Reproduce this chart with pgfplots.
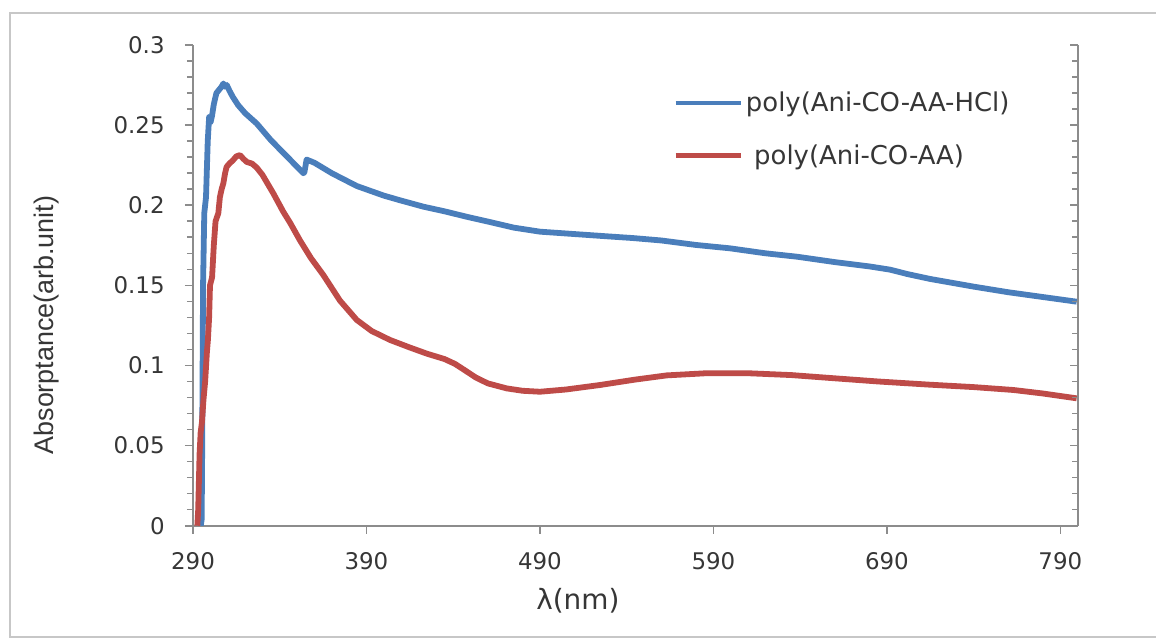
\documentclass[border=0pt]{standalone}
\usepackage{fontspec}
\setmainfont{DejaVu Sans}
\newfontfamily\lib{Liberation Sans}
\usepackage{pgfplots}
\pgfplotsset{compat=1.18}
\definecolor{cblue}{HTML}{4A7EBB}
\definecolor{cred}{HTML}{BE4B48}
\definecolor{tickgray}{HTML}{363636}
\definecolor{axgray}{HTML}{8C8C8C}
\begin{document}
\begin{tikzpicture}
\path[use as bounding box] (-96.5bp,-56.65bp) rectangle (481.5bp,262.85bp);
\fill[white] (-96.5bp,-56.65bp) rectangle (481.5bp,262.85bp);
\draw[black!22, line width=1bp] (485bp,256.35bp) -- (-91.5bp,256.35bp) -- (-91.5bp,-55.65bp) -- (485bp,-55.65bp);
\begin{axis}[
  at={(0,0)}, anchor=south west,
  scale only axis, width=442.35bp, height=240.35bp,
  xmin=290, xmax=800, ymin=0, ymax=0.3,
  axis x line*=bottom, axis y line*=left,
  axis line style={axgray, line width=1bp},
  every tick/.style={axgray, line width=0.8bp},
  tick align=outside,
  major tick length=4bp, minor tick length=3bp,
  xtick={290,390,490,590,690,790},
  ytick={0,0.05,0.1,0.15,0.2,0.25,0.3},
  yticklabels={0,0.05,0.1,0.15,0.2,0.25,0.3},
  minor y tick num=4,
  /pgf/number format/assume math mode=true,
  xticklabel style={font=\fontsize{11.5}{13}\selectfont, text=tickgray, inner sep=0pt, anchor=north, yshift=-9bp},
  yticklabel style={font=\fontsize{11.5}{13}\selectfont, text=tickgray, inner sep=0pt, anchor=east, xshift=-10bp},
  xlabel={λ(nm)},
  xlabel style={font=\fontsize{14}{16}\selectfont, text=tickgray, at={(axis description cs:0.435,-0.1566)}, anchor=center, inner sep=0pt},
  ylabel={\lib Absorptance(arb.unit)},
  ylabel style={font=\fontsize{13.5}{15}\selectfont, text=tickgray, at={(axis description cs:-0.165,0.4175)}, anchor=center, rotate=0, inner sep=0pt},
  legend style={at={(axis cs:566.7,0.273)}, anchor=north west, draw=none, fill=none, inner sep=0pt,
    font=\fontsize{13}{15}\selectfont, text=tickgray, row sep=12bp,
    nodes={inner sep=1.5bp}},
  legend cell align=left,
  legend image code/.code={\draw[#1, line width=2.3bp] (0bp,0bp) -- (32.5bp,0bp);},
]
\addplot[cblue, line width=2.9bp, line join=round] coordinates {
(294.5,0.000) (295.0,0.004) (295.3,0.05) (295.8,0.15) (296.5,0.195) (297.5,0.205)
(298.5,0.24) (299.3,0.255) (300.2,0.252) (301.0,0.256) (302.0,0.263) (303.5,0.270)
(305,0.272) (306.5,0.274) (307.5,0.276) (308.5,0.274) (309.5,0.275) (311,0.2715)
(313,0.2675) (316,0.2625) (320,0.2575) (326.7,0.2510) (335,0.2405) (345.9,0.2285)
(353.6,0.2200) (354.2,0.2205) (355.5,0.2285) (360,0.2265) (370,0.2200) (384.4,0.2120)
(400,0.2060) (409.3,0.2031) (422.8,0.1991) (435,0.1962) (447.8,0.1928) (461.2,0.1895)
(475,0.1860) (490,0.1835) (510,0.1820) (530,0.1805) (543.8,0.1795) (560,0.1780)
(580,0.1752) (599.6,0.1731) (620,0.1700) (638,0.1679) (660,0.1645) (680,0.1618)
(691.8,0.1598) (702,0.1570) (714.9,0.1540) (740,0.1492) (760,0.1457) (780,0.1427) (799.4,0.1398)
};
\addlegendentry{poly(Ani-CO-AA-HCl)}
\addplot[cred, line width=2.9bp, line join=round] coordinates {
(292.5,0.000) (293.0,0.01) (293.8,0.045) (294.4,0.058) (295.2,0.065) (296,0.078)
(297,0.09) (298,0.108) (298.6,0.116) (299.3,0.13) (299.8,0.150) (301,0.155)
(302,0.175) (303,0.19) (304.6,0.195) (305.5,0.205) (306.5,0.210) (307.5,0.2137)
(308.5,0.220) (309.4,0.224) (311,0.226) (313,0.228) (315,0.2305) (317.1,0.2313)
(319,0.229) (321,0.227) (324,0.226) (326.7,0.2235) (330,0.219) (336.3,0.2074)
(342,0.196) (346,0.189) (351.7,0.178) (358,0.167) (365.1,0.1565) (374.7,0.1405)
(384.4,0.1284) (393,0.1215) (403.6,0.1159) (415,0.1112) (425,0.1073) (435,0.1040)
(441,0.1010) (447,0.0968) (453,0.0925) (460,0.0888) (470.8,0.0857) (480,0.0842) (490,0.0836)
(505,0.0850) (524.6,0.0878) (545,0.0912) (563,0.0938) (585,0.0951) (611.1,0.0951)
(635,0.0940) (657.2,0.0922) (685,0.0900) (714.9,0.0880) (740,0.0865) (762.9,0.0847)
(780,0.0825) (799.4,0.0795)
};
\addlegendentry{\ poly(Ani-CO-AA)}
\end{axis}
\begin{axis}[
  at={(0,0)}, anchor=south west,
  scale only axis, width=442.35bp, height=240.35bp,
  xmin=290, xmax=800, ymin=0, ymax=0.3,
  hide x axis, axis y line*=right,
  axis line style={axgray, line width=1bp},
  every tick/.style={axgray, line width=0.8bp},
  tick align=inside,
  major tick length=4bp, minor tick length=3bp,
  ytick={0,0.05,0.1,0.15,0.2,0.25,0.3},
  yticklabels={},
  minor y tick num=4,
]
\end{axis}
\end{tikzpicture}
\end{document}
